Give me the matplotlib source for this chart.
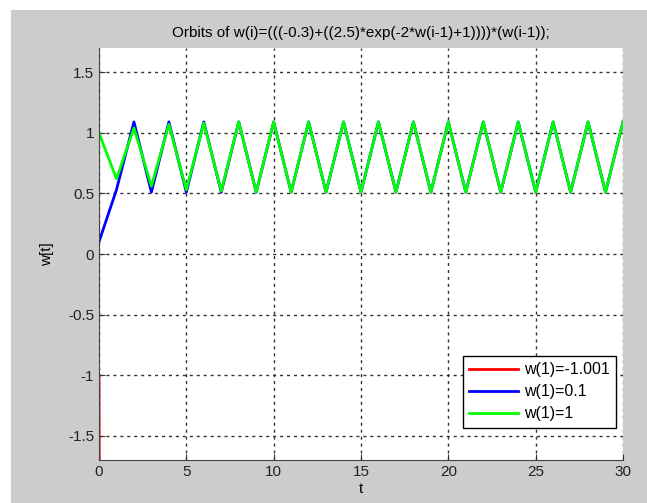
import numpy as np
import matplotlib.pyplot as plt
from matplotlib.patches import Rectangle

plt.rcParams['font.family'] = ['Liberation Sans', 'DejaVu Sans']

# orbit values, t = 0..30
t = np.arange(31)
w_red = [-1.001, -50.2, -1.3e46]
w_blue = [0.1, 0.53, 1.09, 0.51, 1.09, 0.51, 1.09, 0.51, 1.09, 0.51,
          1.09, 0.51, 1.09, 0.51, 1.09, 0.51, 1.09, 0.51, 1.09, 0.51,
          1.09, 0.51, 1.09, 0.51, 1.09, 0.51, 1.09, 0.51, 1.09, 0.51, 1.09]
w_green = [1.0, 0.62, 1.04, 0.56, 1.07, 0.53, 1.08, 0.52, 1.09, 0.51,
           1.09, 0.51, 1.09, 0.51, 1.09, 0.51, 1.09, 0.51, 1.09, 0.51,
           1.09, 0.51, 1.09, 0.51, 1.09, 0.51, 1.09, 0.51, 1.09, 0.51, 1.09]
labels = ['w(1)=-1.001', 'w(1)=0.1', 'w(1)=1']

W, H = 647, 503
fig = plt.figure(figsize=(W/100, H/100), dpi=100, facecolor='white')
# gray matlab window background (screenshot has a thin white strip top/left)
fig.patches.append(Rectangle((11/W, 0), 1, 1 - 10/H, transform=fig.transFigure,
                             facecolor='#cccccc', edgecolor='none', zorder=-10))

ax = fig.add_axes([99/W, 1 - 460/H, 524/W, 412/H])
ax.plot(t[:len(w_red)], w_red, color='red', lw=2, label=labels[0])
ax.plot(t, w_blue, color='blue', lw=2, label=labels[1])
ax.plot(t, w_green, color='#00ff00', lw=2, label=labels[2])

ax.set_xlim(0, 30)
ax.set_ylim(-1.7, 1.7)
ax.set_xticks([0, 5, 10, 15, 20, 25, 30])
ax.set_yticks([-1.5, -1, -0.5, 0, 0.5, 1, 1.5])
ax.set_yticklabels(['-1.5', '-1', '-0.5', '0', '0.5', '1', '1.5'])
ax.grid(True, color='#333333', linestyle=(0, (2.2, 2.8)), linewidth=1)
ax.spines['top'].set_visible(False)
ax.spines['right'].set_visible(False)
ax.spines['left'].set_color('#444444')
ax.spines['bottom'].set_color('#444444')
ax.tick_params(direction='in', length=4, labelsize=11, colors='#333333',
               labelcolor='#222222')

ax.set_title('Orbits of w(i)=(((-0.3)+((2.5)*exp(-2*w(i-1)+1))))*(w(i-1));',
             fontsize=11, pad=8)
ax.set_xlabel('t', fontsize=11, labelpad=2)
ax.set_ylabel('w[t]', fontsize=11, labelpad=10)

leg = ax.legend(loc='lower right', bbox_to_anchor=(0.987, 0.078),
                borderaxespad=0, fontsize=11.5, frameon=True, fancybox=False,
                handlelength=3.1, handletextpad=0.35, borderpad=0.4,
                labelspacing=0.45, framealpha=1)
leg.get_frame().set_edgecolor('black')
leg.get_frame().set_linewidth(1)

fig.savefig('out.png', dpi=100)
